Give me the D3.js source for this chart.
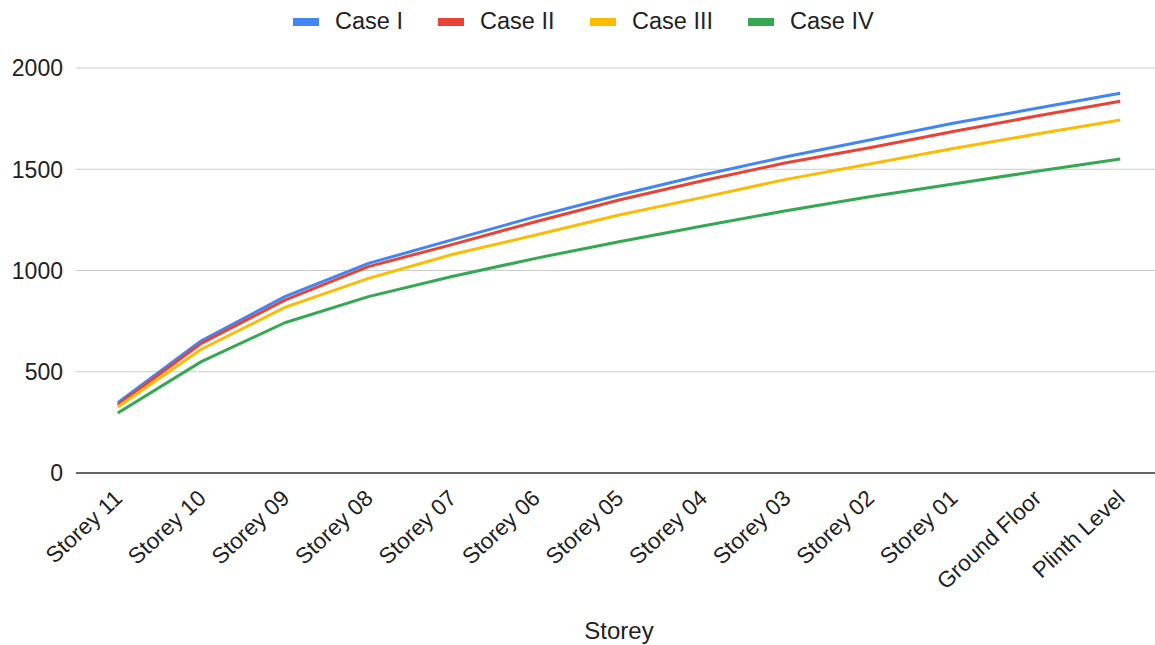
<!DOCTYPE html>
<html>
<head>
<meta charset="utf-8">
<script src="https://cdn.jsdelivr.net/npm/d3@7/dist/d3.min.js"></script>
<style>
  html, body { margin: 0; padding: 0; background: #fff; }
  svg { display: block; font-family: Arial, "Liberation Sans", sans-serif; }
</style>
</head>
<body>
<svg id="chart" width="1155" height="645"></svg>
<script>
// Storey levels, top of the building first
const storeys = ["Storey 11", "Storey 10", "Storey 09", "Storey 08", "Storey 07", "Storey 06",
  "Storey 05", "Storey 04", "Storey 03", "Storey 02", "Storey 01", "Ground Floor", "Plinth Level"];

const caseI   = [347, 653, 871, 1035, 1151, 1266, 1373, 1472, 1562, 1644, 1727, 1801, 1875];
const caseII  = [336, 640, 854, 1019, 1128, 1241, 1348, 1443, 1532, 1606, 1686, 1763, 1836];
const caseIII = [326, 611, 818, 961, 1079, 1175, 1274, 1361, 1450, 1526, 1602, 1674, 1743];
const caseIV  = [296, 550, 742, 871, 970, 1060, 1142, 1220, 1295, 1364, 1427, 1490, 1551];

const seriesNames = ["Case I", "Case II", "Case III", "Case IV"];
const seriesValues = [caseI, caseII, caseIII, caseIV];
const seriesColors = ["#4285F4", "#EA4335", "#FBBC04", "#34A853"];

const yTicks = [0, 500, 1000, 1500, 2000];

const svg = d3.select("#chart");
const W = 1155;
const plot = { left: 76, right: 1162, top: 68, bottom: 473 };

const x = d3.scalePoint().domain(storeys).range([plot.left, plot.right]).padding(0.5);
const y = d3.scaleLinear().domain([0, 2000]).range([plot.bottom, plot.top]);

// Horizontal gridlines and value labels
const yAxis = svg.append("g");
yAxis.selectAll("line.grid")
  .data(yTicks.filter(d => d !== 0))
  .join("line")
  .attr("class", "grid")
  .attr("x1", plot.left).attr("x2", W)
  .attr("y1", d => y(d)).attr("y2", d => y(d))
  .attr("stroke", "#cccccc").attr("stroke-width", 1);
yAxis.selectAll("text")
  .data(yTicks)
  .join("text")
  .attr("x", 63).attr("y", d => y(d))
  .attr("dy", "0.36em")
  .attr("text-anchor", "end")
  .attr("font-size", 23)
  .attr("fill", "#222")
  .text(d => d);

// Baseline
svg.append("line")
  .attr("x1", plot.left).attr("x2", W)
  .attr("y1", y(0)).attr("y2", y(0))
  .attr("stroke", "#333").attr("stroke-width", 1.5);

// Series lines
const line = d3.line().x((d, i) => x(storeys[i])).y(d => y(d));
svg.append("g")
  .selectAll("path")
  .data(seriesValues)
  .join("path")
  .attr("d", line)
  .attr("fill", "none")
  .attr("stroke", (d, i) => seriesColors[i])
  .attr("stroke-width", 3)
  .attr("stroke-linejoin", "round");

// Category labels, rotated
svg.append("g")
  .selectAll("text")
  .data(storeys)
  .join("text")
  .attr("transform", d => `translate(${x(d) + 6},${y(0) + 27}) rotate(-43)`)
  .attr("text-anchor", "end")
  .attr("font-size", 22.5)
  .attr("fill", "#222")
  .text(d => d);

// Axis title
svg.append("text")
  .attr("x", 619).attr("y", 639)
  .attr("text-anchor", "middle")
  .attr("font-size", 24)
  .attr("fill", "#222")
  .text("Storey");

// Legend
const legendX = [293, 438, 590, 748];
const legend = svg.append("g")
  .selectAll("g")
  .data(seriesNames)
  .join("g")
  .attr("transform", (d, i) => `translate(${legendX[i]},22)`);
legend.append("rect")
  .attr("x", 0).attr("y", -4)
  .attr("width", 26).attr("height", 8)
  .attr("fill", (d, i) => seriesColors[i]);
legend.append("text")
  .attr("x", 42).attr("y", -1)
  .attr("dy", "0.36em")
  .attr("font-size", 23.5)
  .attr("fill", "#222")
  .text(d => d);
</script>
</body>
</html>
